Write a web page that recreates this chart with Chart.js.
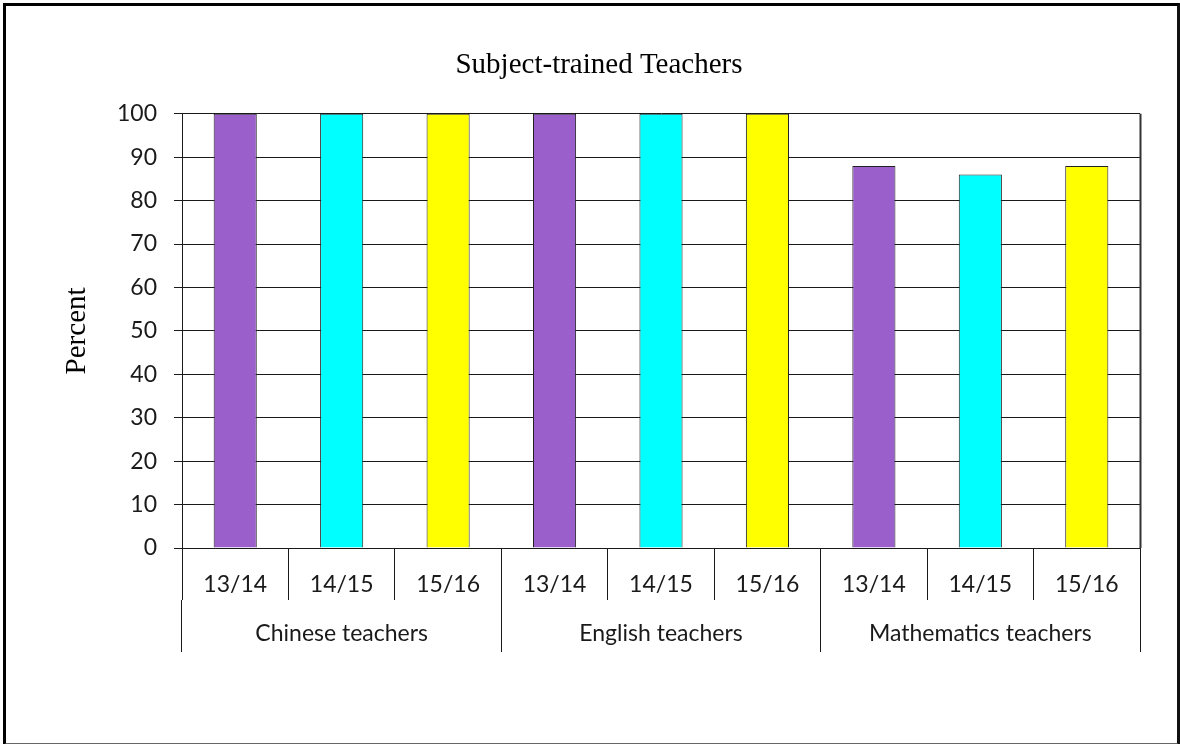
<!DOCTYPE html>
<html>
<head>
<meta charset="utf-8">
<title>Subject-trained Teachers</title>
<script src="https://cdn.jsdelivr.net/npm/chart.js@4/dist/chart.umd.min.js"></script>
<style>
    body { margin: 0; background: #fff; }
    #wrap { position: relative; width: 1180px; height: 744px; overflow: hidden; }
    #frame {
        position: absolute; left: 3px; top: 3px; width: 1177px; height: 743px;
        box-sizing: border-box;
        border-left: 3px solid #000; border-top: 3px solid #000;
        border-right: 3px solid #111; border-bottom: 3px solid #666;
        pointer-events: none;
    }
</style>
</head>
<body>
<div id="wrap">
    <canvas id="teacherChart" width="1180" height="744"></canvas>
    <div id="frame"></div>
</div>
<script>
// Data dari grafik
const groups = ['Chinese teachers', 'English teachers', 'Mathematics teachers'];
const years = ['13/14', '14/15', '15/16'];
const values1314 = [100, 100, 88];
const values1415 = [100, 100, 86];
const values1516 = [100, 100, 88];
const yTicks = [0, 10, 20, 30, 40, 50, 60, 70, 80, 90, 100];

const seriesColors = ['#9B5FCC', '#00FFFF', '#FFFF00'];

// 9 kategori: tahun diulang untuk tiap kelompok
const labels = [];
groups.forEach(() => years.forEach(y => labels.push(y)));

// setiap seri hanya mengisi posisi tahunnya sendiri
function spread(values, yearIndex) {
    const out = [];
    groups.forEach((g, gi) => {
        years.forEach((y, yi) => out.push(yi === yearIndex ? values[gi] : null));
    });
    return out;
}

const seriesValues = [values1314, values1415, values1516];

const tickFont = { family: 'Lato', size: 23 };
const textColor = '#1a1a1a';
const lineColor = '#1a1a1a';

// garis tepi kanan area plot
const plotBorder = {
    id: 'plotBorder',
    afterDraw(chart) {
        const a = chart.chartArea;
        const c = chart.ctx;
        c.save();
        c.strokeStyle = '#333';
        c.lineWidth = 2;
        c.beginPath();
        c.moveTo(a.right + 0.5, a.top);
        c.lineTo(a.right + 0.5, a.bottom);
        c.stroke();
        c.restore();
    }
};

new Chart(document.getElementById('teacherChart'), {
    type: 'bar',
    data: {
        labels: labels,
        datasets: years.map((y, i) => ({
            label: y,
            data: spread(seriesValues[i], i),
            backgroundColor: seriesColors[i],
            borderColor: '#222',
            borderWidth: 1,
            grouped: false,
            categoryPercentage: 1,
            barPercentage: 0.405
        }))
    },
    options: {
        responsive: false,
        animation: false,
        layout: { padding: { left: 58, right: 40, top: 0, bottom: 92 } },
        plugins: {
            legend: { display: false },
            tooltip: { enabled: false },
            title: {
                display: true,
                text: 'Subject-trained Teachers',
                color: '#000',
                font: { family: 'Liberation Serif', size: 29, weight: 'normal' },
                padding: { top: 48, bottom: 31 }
            }
        },
        scales: {
            x: {
                offset: true,
                weight: 0,
                grid: { offset: true, drawOnChartArea: false, tickLength: 52, color: lineColor, lineWidth: 1 },
                border: { color: lineColor },
                ticks: { font: tickFont, color: textColor, padding: -29, maxRotation: 0, autoSkip: false },
                afterFit(scale) { scale.height = 52; }
            },
            x2: {
                type: 'category',
                labels: groups,
                position: 'bottom',
                offset: true,
                weight: 1,
                grid: { offset: true, drawOnChartArea: false, tickLength: 52, color: lineColor, lineWidth: 1 },
                border: { display: false },
                ticks: { font: tickFont, color: textColor, padding: -32, maxRotation: 0, autoSkip: false },
                afterFit(scale) { scale.height = 52; }
            },
            y: {
                min: 0,
                max: 100,
                afterBuildTicks(scale) { scale.ticks = yTicks.map(v => ({ value: v })); },
                grid: { color: lineColor, lineWidth: 1, tickLength: 8 },
                border: { color: lineColor },
                ticks: { font: tickFont, color: textColor, padding: 17 },
                title: {
                    display: true,
                    text: 'Percent',
                    color: '#000',
                    font: { family: 'Liberation Serif', size: 29, weight: 'normal' },
                    padding: { top: 2, bottom: 0 }
                },
                afterFit(scale) { scale.width = 124; }
            }
        }
    },
    plugins: [plotBorder]
});
</script>
</body>
</html>
